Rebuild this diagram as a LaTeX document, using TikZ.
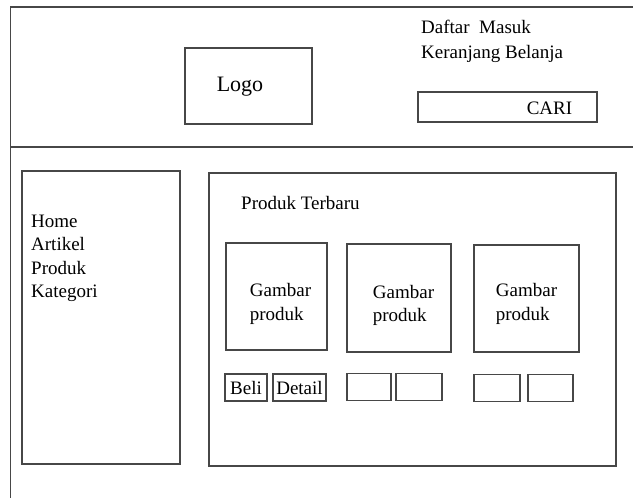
\documentclass[tikz,border=0pt]{standalone}
\usepackage{fontspec}
\setmainfont{Liberation Serif}

\begin{document}
\begin{tikzpicture}[x=1pt,y=-1pt,
	line/.style={line width=1.3pt,draw=black!72},
	box/.style={line,rectangle,inner sep=0pt},
	txt/.style={inner sep=0pt,font=\fontsize{19}{23.5}\selectfont},
	btn/.style={box,minimum height=27,font=\fontsize{19}{23.5}\selectfont}]
	\useasboundingbox (0,0) rectangle (633,498);

	%FRAME
	\coordinate (topl) at (10.5,7);
	\coordinate (topr) at (633,7);
	\coordinate (botl) at (10.5,498);
	\coordinate (divl) at (10.5,147);
	\coordinate (divr) at (633,147);
	\draw[line] (topr)--(topl)--(botl);
	\draw[line] (divl)--(divr);	%header divider

	%HEADER
	\node[box,minimum width=127,minimum height=76] (logo) at (248.5,86) {};
	\node[txt,font=\fontsize{22}{26}\selectfont] (logotxt) at (240,87) {Logo};
	\node[txt,align=left,anchor=north west,font=\fontsize{19}{25}\selectfont] (akun) at (421,20) {Daftar\ \ Masuk\\Keranjang Belanja};
	\node[box,minimum width=179,minimum height=30] (cari) at (507.5,107) {};
	\node[txt] (caritxt) at (549.5,108) {CARI};

	%MENU
	\node[box,minimum width=158,minimum height=293] (menu) at (101,317.5) {};
	\node[txt,align=left,anchor=north west] (menutxt) at (31,214.5) {Home\\Artikel\\Produk\\Kategori};

	%PRODUK
	\node[box,minimum width=407,minimum height=293] (konten) at (412.5,319.5) {};
	\node[txt,anchor=base west] (judul) at (241,209) {Produk Terbaru};

	\node[box,minimum width=101,minimum height=107] (gbr1) at (276.5,296.5) {};
	\node[box,minimum width=104,minimum height=108] (gbr2) at (399,298) {};
	\node[box,minimum width=105,minimum height=107] (gbr3) at (526.5,298.5) {};
	\node[txt,align=left] (gbr1txt) at (280.5,304) {Gambar\\produk};
	\node[txt,align=left] (gbr2txt) at (403.5,305.5) {Gambar\\produk};
	\node[txt,align=left] (gbr3txt) at (526.5,304) {Gambar\\produk};

	%BUTTONS
	\node[btn,minimum width=42] (beli) at (246,387.5) {Beli};
	\node[btn,minimum width=53] (detail) at (299.5,387.5) {Detail};
	\foreach \n/\x/\y/\w in {b2a/369/387/44, b2b/419/387/46, b3a/497/388/46, b3b/550.5/388/45}
		\node[btn,minimum width=\w] (\n) at (\x,\y) {};
\end{tikzpicture}
\end{document}
